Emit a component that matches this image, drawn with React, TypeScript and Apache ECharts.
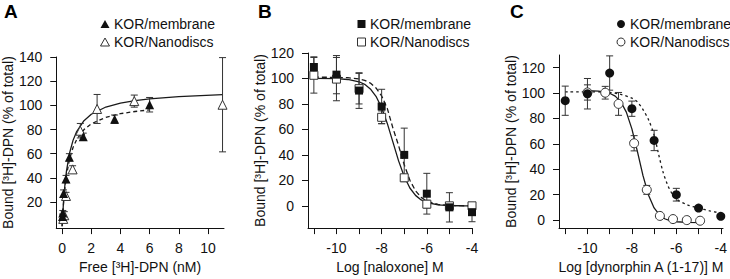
import React, { useEffect, useRef } from 'react';
import * as echarts from 'echarts';

const FONT = '"Liberation Sans", Arial, Helvetica, sans-serif';

// ---------- Panel A: saturation binding ----------
const aMemX = [0.03, 0.05, 0.1, 0.27, 0.5, 1.45, 3.6, 6.0];
const aMemY = [8, 11, 27, 39, 57, 74, 88.5, 100.5];
const aMemErr = [2, 2, 3, 3, 3, 3, 3.5, 6];
const aNanoX = [0.08, 0.15, 0.27, 0.72, 1.25, 2.4, 4.95, 11.0];
const aNanoY = [6, 9, 25, 47, 79, 97, 103.5, 100.5];
const aNanoErr = [2, 3, 3, 3, 6, 12, 5, 39];
// fitted curves
const aFitNanoX = [0, 0.05, 0.1, 0.2, 0.3, 0.5, 0.75, 1.0, 1.5, 2, 3, 4, 5, 6, 8, 11];
const aFitNanoY = [0, 10.1, 20.8, 35.1, 45.6, 59.9, 71.0, 78.3, 87.3, 92.6, 98.6, 101.9, 103.9, 105.4, 107.2, 108.8];
const aFitMemX = [0, 0.05, 0.1, 0.2, 0.3, 0.5, 0.75, 1.0, 1.5, 2, 3, 4, 5, 6];
const aFitMemY = [0, 10.5, 19.1, 32.3, 41.9, 54.9, 65.1, 71.7, 79.9, 84.7, 90.1, 93.1, 94.9, 96.2];

// ---------- Panel B: naloxone competition ----------
const bX = [-11, -10, -9, -8, -7, -6, -5, -4];
const bMemY = [109, 103, 90.5, 78, 40, 9.5, -1.2, -5];
const bMemErr = [8, 15, 14, 13.5, 21, 16, 11.5, 7.5];
const bNanoY = [102.5, 99.5, 92, 69.5, 22, 1.3, 0, 0];
const bNanoErr = [14, 17, 12, 5, 2.5, 3, 2, 2];
const bFitX = [-11, -10, -9.5, -9, -8.75, -8.5, -8.25, -8, -7.75, -7.5, -7.25, -7, -6.75, -6.5, -6.25, -6, -5.5, -5, -4.5, -4];
const bFitNanoY = [100, 99.8, 99.2, 97.4, 95.4, 91.8, 86.0, 77.0, 64.7, 50, 35.3, 23.0, 14.0, 8.2, 4.65, 2.6, 0.79, 0.24, 0.07, 0.02];
const bFitMemY = [101, 100.9, 100.6, 99.65, 98.5, 96.4, 92.6, 86.3, 76.5, 61, 47.3, 32.2, 20.1, 11.8, 6.6, 3.6, 1.05, 0.3, 0.08, 0.02];

// ---------- Panel C: dynorphin A (1-17) competition ----------
const cMemX = [-11, -10, -9, -8, -7, -6, -5, -4];
const cMemY = [94, 99.5, 115.8, 87.7, 62.7, 20, 9.5, 3];
const cMemErr = [11.5, 12, 13.5, 6, 8, 5, 1.5, 1.5];
const cNanoX = [-10, -9.2, -8.6, -7.9, -7.33, -6.74, -6.15, -5.53, -4.93];
const cNanoY = [100.5, 100.3, 91.5, 60.5, 23.8, 3.3, 0.8, 0, -0.5];
const cNanoErr = [6, 5, 9, 6, 3.5, 1.5, 1.5, 1.5, 1.5];
const cFitNanoX = [-10, -9.5, -9, -8.75, -8.5, -8.25, -8, -7.75, -7.5, -7.25, -7, -6.75, -6.5, -6.25, -6, -5.5, -4.86];
const cFitNanoY = [101.9, 101.5, 99.9, 97.6, 93.2, 85.0, 71.8, 53.9, 35.0, 19.6, 9.6, 3.84, 0.86, -0.6, -1.3, -1.85, -1.95];
const cFitMemX = [-11, -10, -9, -8.5, -8, -7.75, -7.5, -7.25, -7, -6.8, -6.6, -6.4, -6.2, -6, -5.5, -5, -4.5, -4];
const cFitMemY = [101, 101, 100.5, 99, 96, 93, 87, 79, 67, 52, 38, 28, 21, 16.5, 12, 9.5, 7.3, 5.5];

const yTicksA = [20, 40, 60, 80, 100, 120, 140];
const xTicksA = [0, 2, 4, 6, 8, 10];
const yTicksBC = [0, 20, 40, 60, 80, 100, 120];
const xTicksLog = [-11, -10, -9, -8, -7, -6, -5, -4];
const xLabelsLog = [-10, -8, -6, -4];

const pairs = (xs: number[], ys: number[]) => xs.map((x, i) => [x, ys[i]]);
const errData = (xs: number[], ys: number[], es: number[]) => xs.map((x, i) => [x, ys[i] - es[i], ys[i] + es[i]]);

const INK = '#111';
const BAR = '#333';

function errSeries(idx: number, data: number[][]) {
  return {
    type: 'custom',
    xAxisIndex: idx,
    yAxisIndex: idx,
    z: 3,
    data,
    encode: { x: 0, y: [1, 2] },
    renderItem: (_p: any, api: any) => {
      const x = api.value(0);
      const lo = api.coord([x, api.value(1)]);
      const hi = api.coord([x, api.value(2)]);
      const w = 3.5;
      const st = { stroke: BAR, lineWidth: 1 };
      return {
        type: 'group',
        children: [
          { type: 'line', shape: { x1: lo[0], y1: lo[1], x2: hi[0], y2: hi[1] }, style: st },
          { type: 'line', shape: { x1: lo[0] - w, y1: lo[1], x2: lo[0] + w, y2: lo[1] }, style: st },
          { type: 'line', shape: { x1: hi[0] - w, y1: hi[1], x2: hi[0] + w, y2: hi[1] }, style: st },
        ],
      };
    },
  };
}

function lineSeries(idx: number, data: number[][], dash: any, smooth: any = false) {
  return {
    type: 'line',
    xAxisIndex: idx,
    yAxisIndex: idx,
    data,
    z: 2,
    symbol: 'none',
    smooth,
    lineStyle: { color: '#1a1a1a', width: 1.3, type: dash },
  };
}

function scatter(idx: number, name: string, data: number[][], symbol: string, size: number, open: boolean) {
  return {
    type: 'scatter',
    name,
    xAxisIndex: idx,
    yAxisIndex: idx,
    data,
    z: open ? 4 : 5,
    symbol,
    symbolSize: size,
    itemStyle: open
      ? { color: '#fff', borderColor: '#333', borderWidth: 1, opacity: 1 }
      : { color: INK, borderColor: INK, borderWidth: 0, opacity: 1 },
  };
}

const axisCommon = {
  axisLine: { onZero: false, lineStyle: { color: '#111', width: 1 } },
  axisTick: { length: 6, lineStyle: { color: '#111', width: 1 } },
  splitLine: { show: false },
  nameTextStyle: { fontFamily: FONT, fontSize: 14, color: '#111' },
};

function xAxis(idx: number, min: number, max: number, ticks: number[], labels: number[], name: string) {
  return {
    ...axisCommon,
    type: 'value',
    gridIndex: idx,
    min,
    max,
    name,
    nameLocation: 'middle',
    nameGap: 29,
    axisTick: { ...axisCommon.axisTick, customValues: ticks },
    axisLabel: { customValues: labels, margin: 13, fontFamily: FONT, fontSize: 14, color: '#111' },
  };
}

function yAxis(idx: number, min: number, max: number, ticks: number[], name: string) {
  return {
    ...axisCommon,
    type: 'value',
    gridIndex: idx,
    min,
    max,
    name,
    nameLocation: 'middle',
    nameRotate: 90,
    nameGap: 40,
    axisTick: { ...axisCommon.axisTick, customValues: ticks },
    axisLabel: { customValues: ticks, margin: 14, fontFamily: FONT, fontSize: 14, color: '#111' },
  };
}

function legendText(x: number, y: number, text: string) {
  return {
    type: 'text',
    style: { x, y, text, fill: '#111', font: `14px ${FONT}`, verticalAlign: 'middle', textAlign: 'left' },
  };
}

function panelLetter(x: number, text: string) {
  return {
    type: 'text',
    style: { x, y: 2, text, fill: '#000', font: `bold 19px ${FONT}`, verticalAlign: 'top', textAlign: 'left' },
  };
}

export default function App() {
  const ref = useRef<HTMLDivElement>(null);
  useEffect(() => {
    document.body.style.margin = '0';
    if (!ref.current) return;
    const chart = echarts.init(ref.current, undefined, { renderer: 'svg' });
    const ySt = (open: boolean) =>
      open ? { fill: '#fff', stroke: '#333', lineWidth: 1 } : { fill: INK, stroke: INK, lineWidth: 0 };
    const option: any = {
      animation: false,
      backgroundColor: '#fff',
      grid: [
        { left: 55, top: 57, width: 169, height: 177 },
        { left: 308, top: 53, width: 164, height: 182 },
        { left: 559, top: 55, width: 166, height: 180 },
      ],
      xAxis: [
        xAxis(0, -0.4, 11.1, xTicksA, xTicksA, 'Free [³H]-DPN (nM)'),
        xAxis(1, -11.26, -4, xTicksLog, xLabelsLog, 'Log [naloxone] M'),
        xAxis(2, -11.28, -3.9, xTicksLog, xLabelsLog, 'Log [dynorphin A (1-17)] M'),
      ],
      yAxis: [
        yAxis(0, -1.6, 140, yTicksA, 'Bound [³H]-DPN (% of total)'),
        yAxis(1, -17.5, 120, yTicksBC, 'Bound [³H]-DPN (% of total)'),
        yAxis(2, -6.3, 130, yTicksBC, 'Bound [³H]-DPN (% of total)'),
      ],
      series: [
        lineSeries(0, pairs(aFitNanoX, aFitNanoY), 'solid'),
        lineSeries(0, pairs(aFitMemX, aFitMemY), [4, 3]),
        errSeries(0, errData(aNanoX, aNanoY, aNanoErr)),
        errSeries(0, errData(aMemX, aMemY, aMemErr)),
        scatter(0, 'KOR/Nanodiscs', pairs(aNanoX, aNanoY), 'triangle', 9, true),
        scatter(0, 'KOR/membrane', pairs(aMemX, aMemY), 'triangle', 9, false),

        lineSeries(1, pairs(bFitX, bFitNanoY), 'solid'),
        lineSeries(1, pairs(bFitX, bFitMemY), [5, 3]),
        errSeries(1, errData(bX, bNanoY, bNanoErr)),
        errSeries(1, errData(bX, bMemY, bMemErr)),
        scatter(1, 'KOR/Nanodiscs', pairs(bX, bNanoY), 'rect', 8, true),
        scatter(1, 'KOR/membrane', pairs(bX, bMemY), 'rect', 8, false),

        lineSeries(2, pairs(cFitNanoX, cFitNanoY), 'solid'),
        lineSeries(2, pairs(cFitMemX, cFitMemY), [2.5, 3], 0.3),
        errSeries(2, errData(cNanoX, cNanoY, cNanoErr)),
        errSeries(2, errData(cMemX, cMemY, cMemErr)),
        scatter(2, 'KOR/Nanodiscs', pairs(cNanoX, cNanoY), 'circle', 9, true),
        scatter(2, 'KOR/membrane', pairs(cMemX, cMemY), 'circle', 9, false),
      ],
      graphic: [
        panelLetter(4, 'A'),
        panelLetter(258, 'B'),
        panelLetter(510, 'C'),
        // legend A
        { type: 'polygon', shape: { points: [[105, 20], [109.5, 28], [100.5, 28]] }, style: ySt(false) },
        legendText(114, 24, 'KOR/membrane'),
        { type: 'polygon', shape: { points: [[105, 38], [109.5, 46], [100.5, 46]] }, style: ySt(true) },
        legendText(114, 42, 'KOR/Nanodiscs'),
        // legend B
        { type: 'rect', shape: { x: 357.5, y: 20, width: 8, height: 8 }, style: ySt(false) },
        legendText(370, 24, 'KOR/membrane'),
        { type: 'rect', shape: { x: 357.5, y: 38, width: 8, height: 8 }, style: ySt(true) },
        legendText(370, 42, 'KOR/Nanodiscs'),
        // legend C
        { type: 'circle', shape: { cx: 621, cy: 24, r: 4 }, style: ySt(false) },
        legendText(630, 24, 'KOR/membrane'),
        { type: 'circle', shape: { cx: 621, cy: 42, r: 4 }, style: ySt(true) },
        legendText(630, 42, 'KOR/Nanodiscs'),
      ],
    };
    chart.setOption(option);
    return () => chart.dispose();
  }, []);
  return <div ref={ref} style={{ width: 730, height: 279 }} />;
}
